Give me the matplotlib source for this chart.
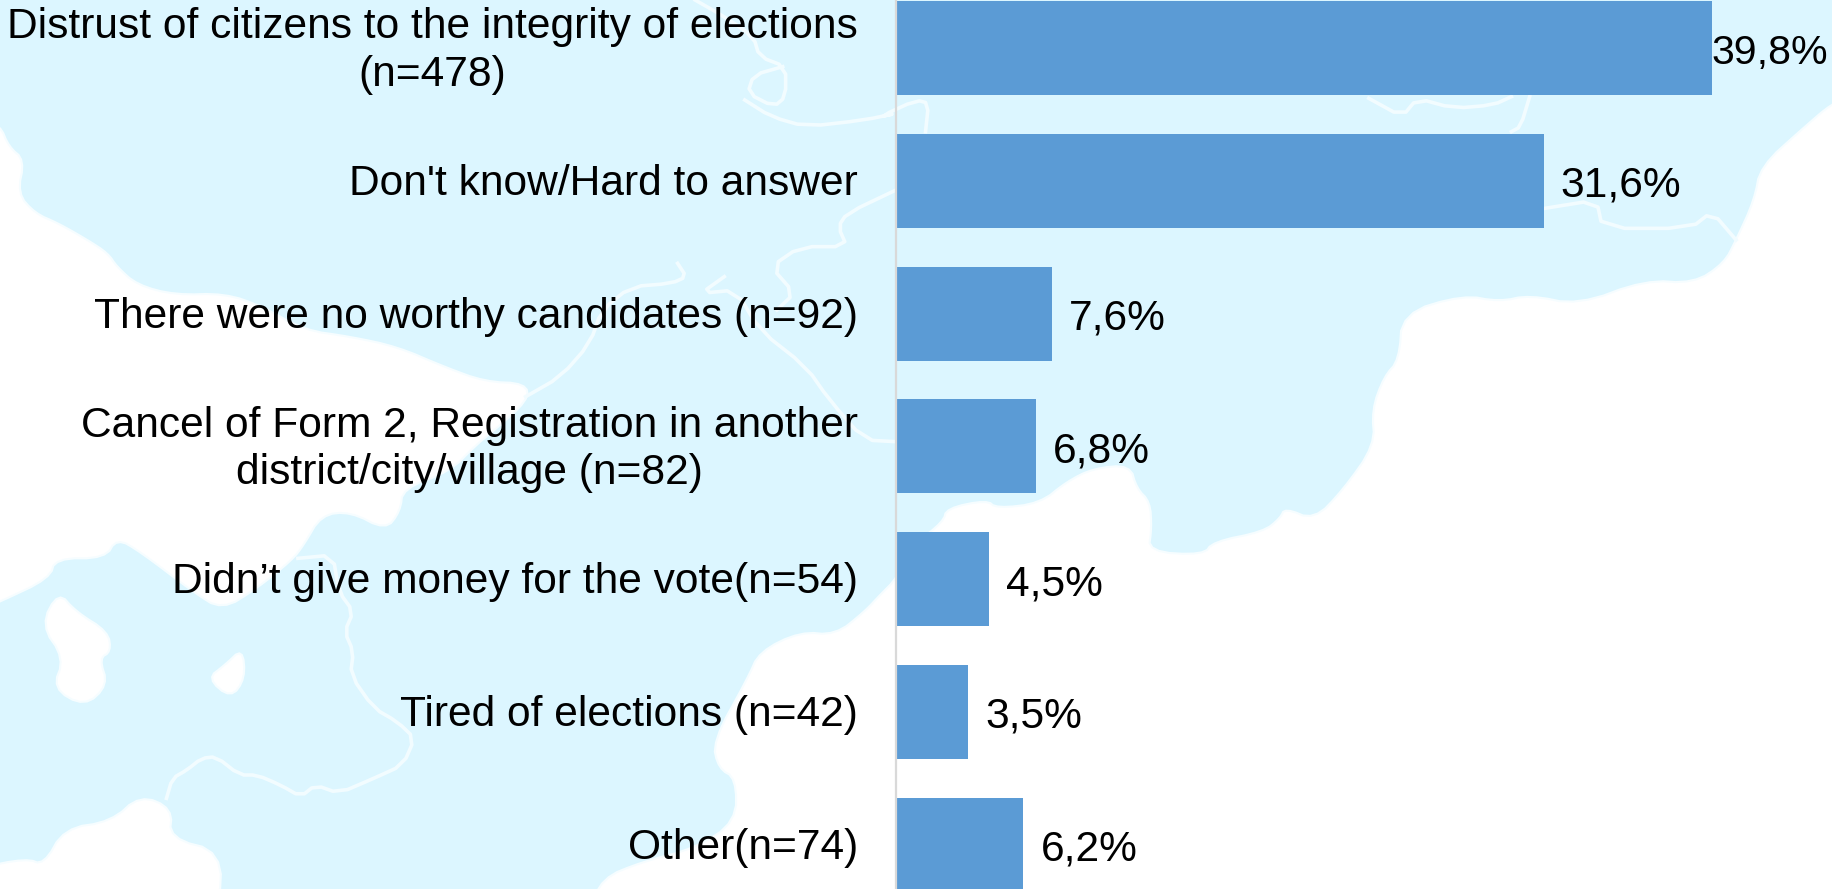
import matplotlib
matplotlib.use("Agg")
import matplotlib.pyplot as plt
from matplotlib.patches import Polygon

plt.rcParams['font.family'] = ['Liberation Sans', 'DejaVu Sans']

categories = [
    "Distrust of citizens to the integrity of elections\n(n=478)",
    "Don't know/Hard to answer",
    "There were no worthy candidates (n=92)",
    "Cancel of Form 2, Registration in another\ndistrict/city/village (n=82)",
    "Didn’t give money for the vote(n=54)",
    "Tired of elections (n=42)",
    "Other(n=74)",
]
values = [39.8, 31.6, 7.6, 6.8, 4.5, 3.5, 6.2]
value_labels = ["39,8%", "31,6%", "7,6%", "6,8%", "4,5%", "3,5%", "6,2%"]

MAP_BLUE = "#DCF6FF"
BAR_BLUE = "#5B9BD5"
W, H = 1832, 889

fig = plt.figure(figsize=(W / 100, H / 100), dpi=100, facecolor=MAP_BLUE)

# background map, traced in pixels of the picture
bg = fig.add_axes([0, 0, 1, 1], zorder=0)
bg.set_xlim(0, W)
bg.set_ylim(H, 0)
bg.axis("off")

def z1(pts):
    return [(x / 1.712, y / 3) for x, y in pts]

def z2(pts):
    return [(x / 1.712, 445 + y / 3) for x, y in pts]

def z3(pts):
    return [(880 + x / 1.647, y / 3) for x, y in pts]

def z4(pts):
    return [(880 + x / 3, 445 + y / 3) for x, y in pts]

# rounds the traced corners
def smooth(pts, closed=False, n=2):
    for _ in range(n):
        new = []
        if not closed:
            new.append(pts[0])
        last = len(pts) if closed else len(pts) - 1
        for k in range(last):
            a = pts[k]
            b = pts[(k + 1) % len(pts)]
            new.append((0.75 * a[0] + 0.25 * b[0], 0.75 * a[1] + 0.25 * b[1]))
            new.append((0.25 * a[0] + 0.75 * b[0], 0.25 * a[1] + 0.75 * b[1]))
        if not closed:
            new.append(pts[-1])
        pts = new
    return pts

# land on the left
left_land = (
    [(-20, -5 + 125), (0, 125)]
    + z1([(15, 440), (42, 480), (30, 580), (60, 640), (100, 670), (150, 720), (185, 760),
          (200, 800), (235, 855), (300, 885), (385, 880), (450, 920), (520, 990), (600, 1010),
          (680, 1040), (760, 1100), (830, 1145), (900, 1150), (905, 1200), (840, 1300)])
    + z2([(815, 0), (770, 80), (690, 130), (685, 200), (660, 255), (600, 200), (550, 210),
          (520, 300), (500, 345), (440, 430), (380, 495), (330, 440), (240, 320), (200, 280),
          (180, 340), (95, 340), (85, 400), (0, 470)])
    + [(-20, 610)]
)
islands = [
    z2([(100, 440), (130, 500), (185, 560), (190, 620), (170, 640), (185, 720), (145, 785),
        (90, 730), (110, 640), (70, 540)]),
    z2([(415, 610), (420, 700), (395, 760), (355, 700), (385, 660)]),
]
bottom_left = z2([(-40, 1400), (-40, 1270), (45, 1240), (75, 1260), (110, 1150), (190, 1130),
                  (240, 1050), (295, 1090), (290, 1180), (380, 1220), (375, 1400)])
# land on the right, wraps round below the bars
right_land = (
    z3([(1600, 290), (1568, 310), (1520, 385), (1450, 500), (1440, 600), (1410, 720), (1390, 790),
        (1340, 850), (1260, 840), (1150, 915), (1070, 885), (1020, 905), (960, 885),
        (860, 940), (855, 1080), (830, 1130), (810, 1230), (815, 1335)])
    + [(1343, 490), (1314, 520), (1285, 508)]
    + z4([(1200, 220), (1150, 260), (1000, 290), (970, 330), (805, 320), (815, 250),
          (810, 170), (770, 130), (750, 60), (640, 70), (560, 110), (480, 175), (350, 190),
          (320, 165), (200, 190), (190, 230), (100, 300), (50, 400), (0, 450)])
    + z2([(1480, 500), (1430, 570), (1370, 560), (1300, 620), (1280, 700),
          (1220, 890), (1230, 970), (1260, 1000), (1260, 1130), (1190, 1210), (1100, 1250),
          (1030, 1300), (1010, 1400)])
    + [(590, 1500), (3000, 1500), (3000, -200)]
)
for poly in [left_land, bottom_left, right_land] + islands:
    bg.add_patch(Polygon(smooth(poly, closed=True), closed=True, facecolor="white",
                         edgecolor="#F6FDFF", lw=1.5))

# borders
borders = [
    z1([(1190, 0), (1240, 50), (1290, 110), (1300, 170), (1345, 200), (1345, 290), (1325, 320),
        (1280, 280), (1290, 225), (1340, 200)]),
    z1([(1275, 300), (1320, 350), (1380, 380), (1480, 360), (1534, 340)])
    + z3([(0, 350), (60, 300), (80, 310), (75, 395)]),
    z1([(1534, 570), (1450, 640), (1435, 680), (1450, 740), (1370, 740), (1320, 800),
        (1360, 880), (1330, 930)]),
    z1([(1160, 790), (1175, 830), (1150, 850), (1080, 860), (1030, 930), (1010, 1030),
        (960, 1130), (900, 1190)]),
    z1([(1240, 830), (1200, 880), (1260, 870), (1300, 990), (1380, 1100), (1420, 1200),
        (1480, 1320), (1534, 1325)]),
    z3([(805, 295), (860, 350), (885, 295), (945, 325), (1010, 315), (1040, 290)]),
    z3([(1070, 290), (1055, 380), (1040, 395)]),
    z3([(1095, 625), (1180, 600), (1190, 685), (1335, 685), (1370, 635), (1410, 720)]),
    z2([(510, 340), (570, 330), (580, 440), (605, 500), (590, 560), (605, 620), (600, 690),
        (640, 790), (680, 830), (710, 880), (690, 960), (640, 1000), (580, 1045), (540, 1020),
        (515, 1055), (480, 1020), (440, 990), (410, 990), (370, 935), (345, 940), (320, 975),
        (295, 1000), (285, 1060)]),
]
for line in borders:
    line = smooth(line, n=1)
    xs = [p[0] for p in line]
    ys = [p[1] for p in line]
    bg.plot(xs, ys, color="#F2FCFF", lw=2.6, solid_joinstyle="round")

# the chart itself
ax = fig.add_axes([0, 0, 1, 1], zorder=1)
ax.patch.set_alpha(0)
pos = list(range(len(values)))
ax.barh(pos, values, height=0.708, color=BAR_BLUE)
ax.set_xlim(-43.77, 45.68)
ax.set_ylim(6.333, -0.3614)
ax.axvline(0, color="#D9D9D9", lw=1.6, zorder=3)
for s in ax.spines.values():
    s.set_visible(False)
ax.set_xticks([])
ax.set_yticks([])

for i, cat in enumerate(categories):
    ax.annotate(cat, (0, i), xytext=(-38.5, -3), textcoords="offset pixels", ha="right",
                va="center", ma="center", fontsize=30.6, color="black", linespacing=1.25)
for i, lab in enumerate(value_labels):
    pad = 0 if i == 0 else 17
    size = 29.6 if i == 0 else 30.6
    ax.annotate(lab, (values[i], i), xytext=(pad, -5), textcoords="offset pixels", ha="left",
                va="center", fontsize=size, color="black")

fig.savefig("out.png", dpi=100, facecolor=fig.get_facecolor())
